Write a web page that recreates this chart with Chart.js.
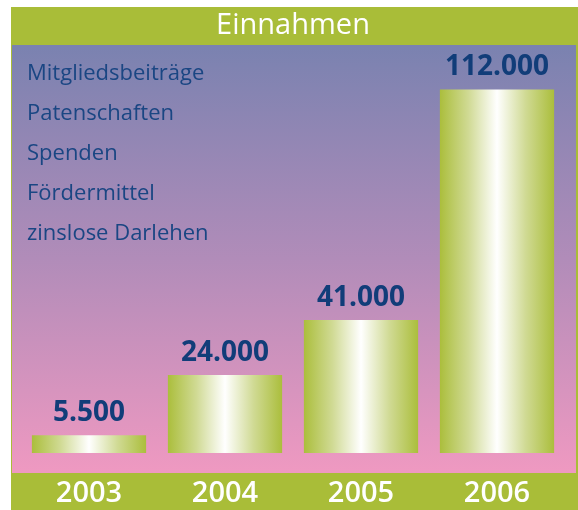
<!DOCTYPE html>
<html>
<head>
<meta charset="utf-8">
<script src="https://cdn.jsdelivr.net/npm/chart.js@4"></script>
<style>
  html, body { margin: 0; padding: 0; background: #ffffff; }
  #wrap { width: 578px; height: 510px; }
</style>
</head>
<body>
<div id="wrap"><canvas id="incomeChart" width="578" height="510"></canvas></div>
<script>
// chart data
const years = ['2003', '2004', '2005', '2006'];
const income = [5500, 24000, 41000, 112000];
const incomeSources = ['Mitgliedsbeiträge', 'Patenschaften', 'Spenden', 'Fördermittel', 'zinslose Darlehen'];
const chartTitle = 'Einnahmen';

const GREEN = '#a9bd38';
const NAVY = '#113d79';
const BAR_PCT = 0.84;

// German thousands separator
function fmt(v) {
    return String(v).replace(/\B(?=(\d{3})+(?!\d))/g, '.');
}

// frame, green bands and the blue-to-pink panel
const backdrop = {
    id: 'backdrop',
    beforeDraw(chart) {
        const ctx = chart.ctx;
        ctx.save();
        ctx.fillStyle = '#ffffff';
        ctx.fillRect(0, 0, chart.width, chart.height);
        ctx.fillStyle = GREEN;
        ctx.fillRect(11, 7, 567, 503);
        const g = ctx.createLinearGradient(0, 45, 0, 473);
        g.addColorStop(0, '#7a82b0');
        g.addColorStop(0.5, '#b18cb9');
        g.addColorStop(1, '#ef99c1');
        ctx.fillStyle = g;
        ctx.fillRect(12, 45, 564, 428);
        ctx.restore();
    },
    beforeDatasetsDraw(chart) {
        // list of income sources on the left
        const ctx = chart.ctx;
        ctx.save();
        ctx.font = '22px "Open Sans"';
        ctx.fillStyle = '#1a4683';
        ctx.textAlign = 'left';
        ctx.textBaseline = 'alphabetic';
        incomeSources.forEach((s, i) => {
            ctx.fillText(s, 27, 80 + i * 40);
        });
        ctx.restore();
    },
    afterDatasetsDraw(chart) {
        // value labels above bars
        const ctx = chart.ctx;
        const meta = chart.getDatasetMeta(0);
        ctx.save();
        ctx.font = 'bold 28px "Open Sans"';
        ctx.fillStyle = NAVY;
        ctx.textAlign = 'center';
        ctx.textBaseline = 'alphabetic';
        meta.data.forEach((bar, i) => {
            ctx.fillText(fmt(income[i]), bar.x, bar.y - 14);
        });
        ctx.restore();
    }
};

function barFill(c) {
    const chart = c.chart;
    const xs = chart.scales.x;
    if (c.dataIndex === undefined || !xs || !chart.chartArea) return GREEN;
    const cx = xs.getPixelForValue(c.dataIndex);
    const half = (xs.width / years.length) * BAR_PCT / 2;
    const g = chart.ctx.createLinearGradient(cx - half, 0, cx + half, 0);
    g.addColorStop(0, '#abbe3c');
    g.addColorStop(0.25, '#d0da94');
    g.addColorStop(0.5, '#ffffff');
    g.addColorStop(0.75, '#d0da94');
    g.addColorStop(1, '#abbe3c');
    return g;
}

const ctx = document.getElementById('incomeChart').getContext('2d');
new Chart(ctx, {
    type: 'bar',
    data: {
        labels: years,
        datasets: [{
            label: chartTitle,
            data: income,
            backgroundColor: barFill,
            borderWidth: 0,
            barPercentage: BAR_PCT,
            categoryPercentage: 1
        }]
    },
    options: {
        responsive: false,
        animation: false,
        layout: {
            padding: { top: 7, left: 21, right: 13, bottom: 0 }
        },
        plugins: {
            legend: { display: false },
            tooltip: { enabled: false },
            title: {
                display: true,
                text: chartTitle,
                color: '#ffffff',
                font: { family: 'Open Sans', size: 29, weight: '500', lineHeight: 1.1 },
                padding: { top: 3, bottom: 2.1 }
            }
        },
        scales: {
            x: {
                grid: { display: false, drawTicks: false },
                border: { display: false },
                ticks: {
                    color: '#ffffff',
                    padding: 23,
                    font: { family: 'Open Sans', size: 29, weight: '600' }
                },
                afterFit(scale) { scale.height = 57; }
            },
            y: {
                display: false,
                min: 0,
                max: 126000
            }
        }
    },
    plugins: [backdrop]
});
</script>
</body>
</html>
